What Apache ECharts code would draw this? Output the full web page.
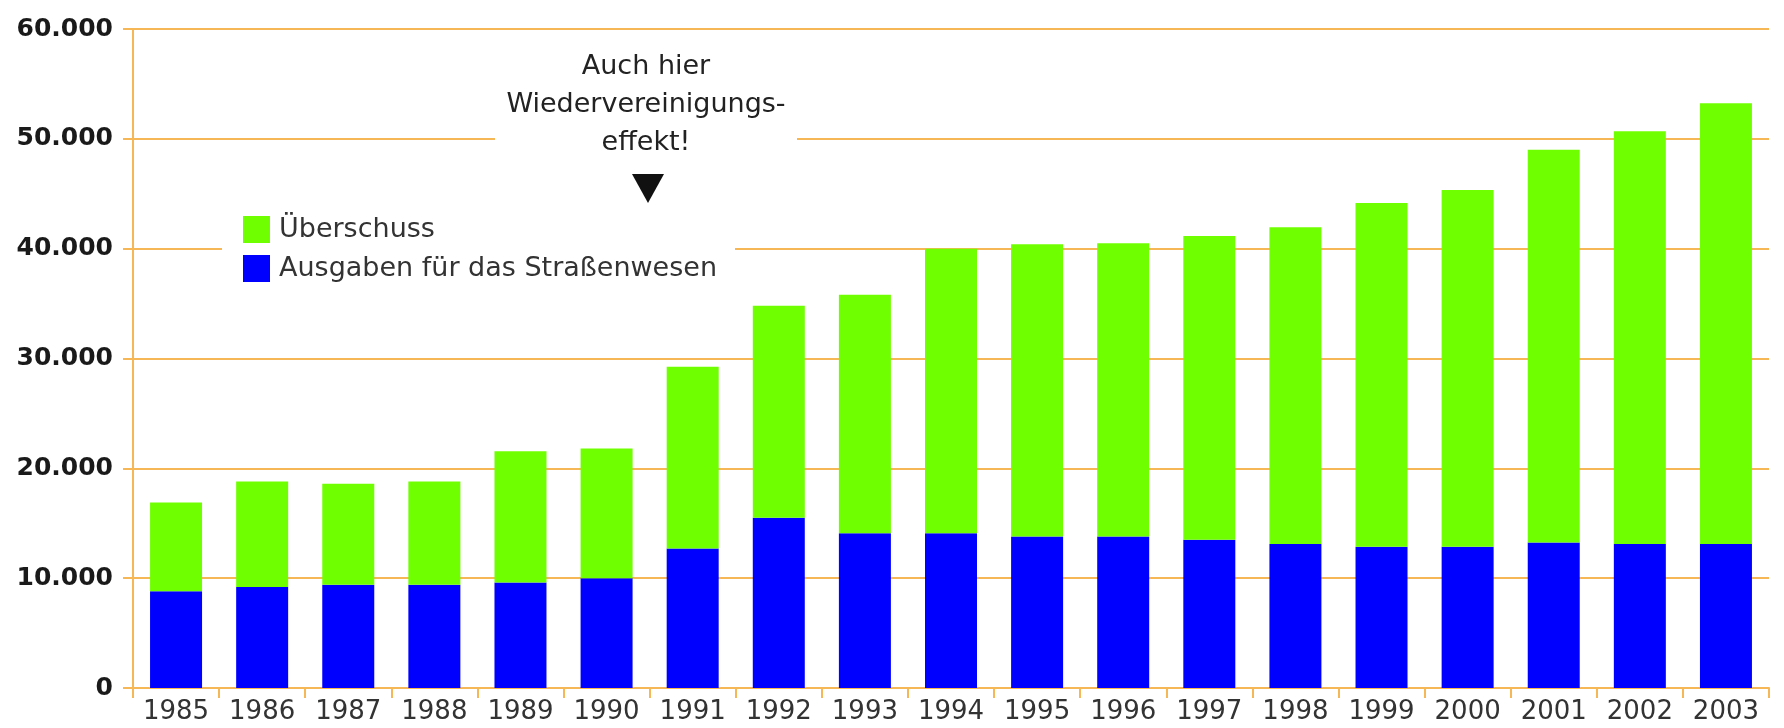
<!DOCTYPE html>
<html>
<head>
<meta charset="utf-8">
<script src="https://cdn.jsdelivr.net/npm/echarts@6/dist/echarts.min.js"></script>
<style>html,body{margin:0;padding:0;background:#fff}#c{width:1784px;height:728px}</style>
</head>
<body>
<div id="c"></div>
<script>
var years = ['1985','1986','1987','1988','1989','1990','1991','1992','1993','1994','1995','1996','1997','1998','1999','2000','2001','2002','2003'];
var ausgaben = [8800,9200,9400,9400,9600,10000,12700,15500,14100,14100,13800,13800,13500,13100,12850,12850,13250,13100,13100];
var ueberschuss = [8100,9600,9200,9400,11950,11800,16550,19300,21700,25900,26600,26700,27650,28850,31300,32500,35750,37600,40150];
var yTicks = [0,10000,20000,30000,40000,50000,60000];
var seriesNames = ['Überschuss','Ausgaben für das Straßenwesen'];
var noteText = 'Auch hier\nWiedervereinigungs-\neffekt!';

var orange = '#F6B757';
var chart = echarts.init(document.getElementById('c'));
chart.setOption({
  animation: false,
  backgroundColor: '#ffffff',
  grid: {left: 133, right: 15, top: 29, bottom: 40, containLabel: false},
  legend: {
    data: seriesNames,
    orient: 'vertical',
    left: 222, top: 208,
    itemWidth: 27, itemHeight: 27, itemGap: 12,
    icon: 'rect',
    backgroundColor: '#ffffff',
    padding: [8, 18, 8, 21],
    textStyle: {fontFamily: 'DejaVu Sans', fontSize: 27, color: '#333333', padding: [0,0,0,4]}
  },
  xAxis: {
    type: 'category',
    data: years,
    axisLine: {lineStyle: {color: orange, width: 2}},
    axisTick: {show: true, length: 10, interval: 0, lineStyle: {color: orange, width: 2}},
    axisLabel: {interval: 0, margin: 11, fontFamily: 'DejaVu Sans', fontSize: 26, color: '#333333'}
  },
  yAxis: {
    type: 'value',
    min: yTicks[0], max: yTicks[yTicks.length-1], interval: yTicks[1]-yTicks[0],
    axisLine: {show: true, lineStyle: {color: orange, width: 2}},
    axisTick: {show: true, length: 10, lineStyle: {color: orange, width: 2}},
    splitLine: {lineStyle: {color: orange, width: 2}},
    axisLabel: {
      margin: 20, fontFamily: 'DejaVu Sans', fontWeight: 'bold', fontSize: 25, color: '#1a1a1a',
      formatter: function(v){ return v === 0 ? '0' : (v/1000) + '.000'; }
    }
  },
  series: [
    {name: seriesNames[1], type: 'bar', stack: 't', data: ausgaben, barWidth: 52, itemStyle: {color: '#0000FF'}},
    {name: seriesNames[0], type: 'bar', stack: 't', data: ueberschuss, barWidth: 52, itemStyle: {color: '#70FF00'}}
  ],
  graphic: [
    {type: 'rect', shape: {x: 495, y: 45, width: 302, height: 165}, style: {fill: '#ffffff'}, z: 5},
    {type: 'text', x: 646, y: 48, z: 6,
      style: {text: noteText, fill: '#222222', font: '27px "DejaVu Sans"', textAlign: 'center', textVerticalAlign: 'top', lineHeight: 38}},
    {type: 'polygon', shape: {points: [[632,174],[664,174],[648,203]]}, style: {fill: '#111111'}, z: 6}
  ]
});
</script>
</body>
</html>
